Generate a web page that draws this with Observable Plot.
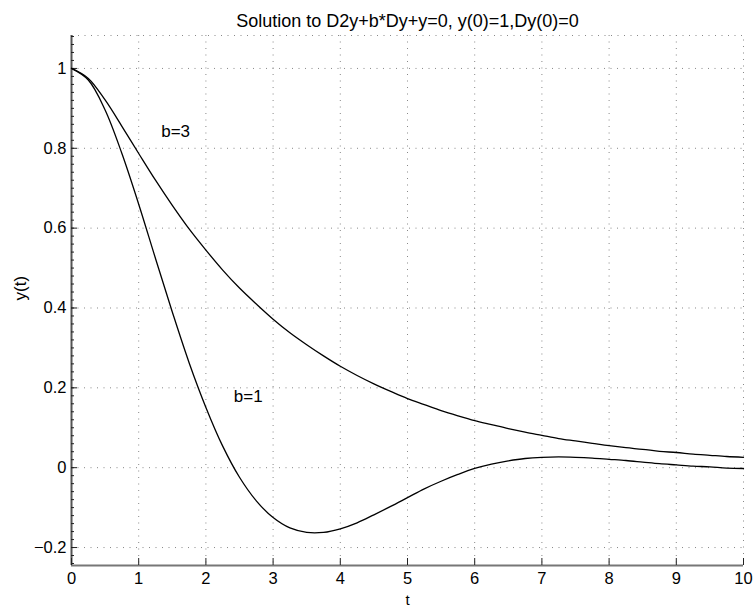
<!DOCTYPE html>
<html>
<head>
<meta charset="utf-8">
<script src="https://cdn.jsdelivr.net/npm/d3@7"></script>
<script src="https://cdn.jsdelivr.net/npm/@observablehq/plot@0.6"></script>
<style>
  html, body { margin: 0; padding: 0; background: white; }
</style>
</head>
<body>
<div id="chart"></div>
<script>
const titleText = "Solution to D2y+b*Dy+y=0, y(0)=1,Dy(0)=0";
const xLabel = "t";
const yLabel = "y(t)";
const xTicks = [0, 1, 2, 3, 4, 5, 6, 7, 8, 9, 10];
const yTicks = [-0.2, 0, 0.2, 0.4, 0.6, 0.8, 1];
const xDomain = [0, 10];
const yDomain = [-0.245, 1.0825];

const tValues = [0, 0.25, 0.5, 0.75, 1, 1.25, 1.5, 1.75, 2, 2.25, 2.5, 2.75, 3, 3.25, 3.5, 3.75,
  4, 4.25, 4.5, 4.75, 5, 5.25, 5.5, 5.75, 6, 6.25, 6.5, 6.75, 7, 7.25, 7.5, 7.75,
  8, 8.25, 8.5, 8.75, 9, 9.25, 9.5, 9.75, 10];
const yB1 = [1, 0.971, 0.896, 0.787, 0.660, 0.524, 0.390, 0.263, 0.151, 0.054, -0.024, -0.083,
  -0.125, -0.151, -0.162, -0.162, -0.153, -0.138, -0.118, -0.097, -0.075, -0.053, -0.034, -0.017,
  -0.002, 0.009, 0.017, 0.023, 0.026, 0.027, 0.026, 0.024, 0.021, 0.018, 0.014, 0.010, 0.007,
  0.004, 0.002, -0.001, -0.002];
const yB3 = [1, 0.975, 0.921, 0.855, 0.787, 0.720, 0.657, 0.598, 0.545, 0.495, 0.450, 0.410,
  0.372, 0.338, 0.308, 0.280, 0.254, 0.231, 0.210, 0.191, 0.173, 0.158, 0.143, 0.130, 0.118,
  0.108, 0.098, 0.089, 0.081, 0.073, 0.067, 0.061, 0.055, 0.050, 0.046, 0.041, 0.038, 0.034,
  0.031, 0.028, 0.026];

const annotLabels = ["b=3", "b=1"];
const annotX = [1.55, 2.63];
const annotY = [0.842, 0.179];

const W = 753, H = 608, mL = 71, mR = 10, mT = 35, mB = 43;
const frameW = W - mL - mR, frameH = H - mT - mB;
const font = "'Liberation Sans', Arial, Helvetica, sans-serif";

const seriesB1 = tValues.map((t, i) => ({t, y: yB1[i]}));
const seriesB3 = tValues.map((t, i) => ({t, y: yB3[i]}));
const annots = annotLabels.map((label, i) => ({label, x: annotX[i], y: annotY[i]}));
const minorY = d3.range(-0.24, 1.081, 0.02);
const dots = "1,5.5";
const fmt = d => d < 0 ? "\u2212" + Math.abs(d) : String(d);

const chart = Plot.plot({
  width: W, height: H,
  marginLeft: mL, marginRight: mR, marginTop: mT, marginBottom: mB,
  style: {fontFamily: font, background: "white", color: "black"},
  x: {domain: xDomain},
  y: {domain: yDomain},
  marks: [
    Plot.gridY(yTicks, {stroke: "#888", strokeOpacity: 1, strokeDasharray: dots}),
    Plot.gridX(xTicks.filter(d => d > 0 && d < 10), {stroke: "#888", strokeOpacity: 1, strokeDasharray: dots}),
    Plot.frame({stroke: "#888", strokeDasharray: dots}),
    Plot.ruleX([xDomain[0]], {stroke: "#555", strokeWidth: 2}),
    Plot.ruleY([yDomain[0]], {stroke: "#777", strokeWidth: 2}),
    Plot.tickY(minorY, {y: d => d, insetRight: frameW - 3, stroke: "#222"}),
    Plot.tickY(yTicks, {y: d => d, insetRight: frameW - 6, stroke: "#222"}),
    Plot.tickX(xTicks, {x: d => d, insetTop: frameH - 7, stroke: "#222"}),
    Plot.axisY(yTicks, {tickSize: 0, tickPadding: 5, fontSize: 16.5, label: null, tickFormat: fmt}),
    Plot.axisX(xTicks, {tickSize: 0, tickPadding: 7, fontSize: 16.5, label: null}),
    Plot.line(seriesB3, {x: "t", y: "y", curve: "catmull-rom", stroke: "black", strokeWidth: 1.3}),
    Plot.line(seriesB1, {x: "t", y: "y", curve: "catmull-rom", stroke: "black", strokeWidth: 1.3}),
    Plot.text(annots, {x: "x", y: "y", text: "label", fontSize: 17, fill: "black"}),
    Plot.text([titleText], {frameAnchor: "top", dy: -21, fontSize: 18, fill: "black"}),
    Plot.text([xLabel], {frameAnchor: "bottom", dy: 39, lineAnchor: "bottom", fontSize: 15, fill: "black"}),
    Plot.text([yLabel], {frameAnchor: "left", dx: -51, rotate: -90, fontSize: 17, fill: "black"})
  ]
});
document.getElementById("chart").appendChild(chart);
</script>
</body>
</html>
